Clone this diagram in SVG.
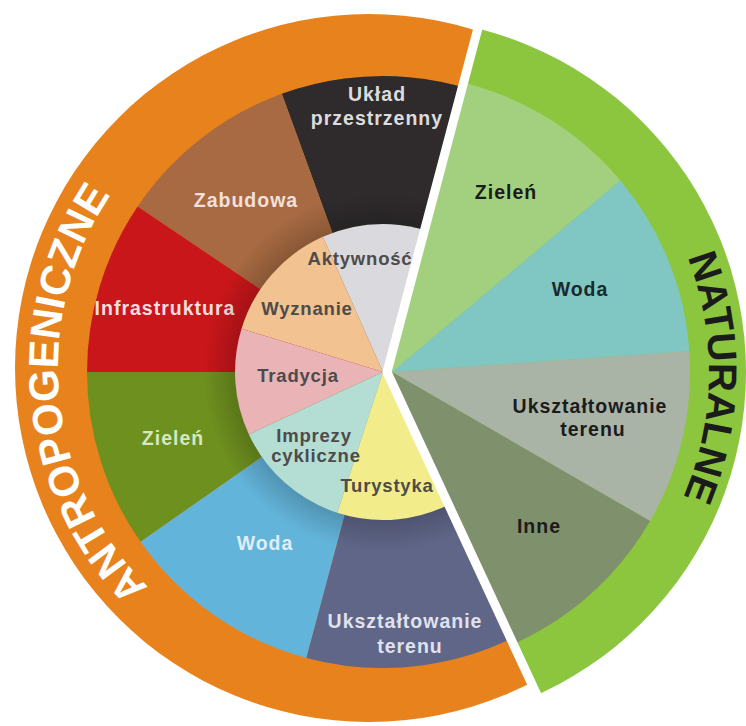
<svg xmlns="http://www.w3.org/2000/svg" width="746" height="726" viewBox="0 0 746 726">
  <style>
    .lbl { font-family: "Liberation Sans", Arial, sans-serif; font-weight: bold; font-size: 19.5px; letter-spacing: 1px; text-anchor: middle; }
    .in { font-family: "Liberation Sans", Arial, sans-serif; font-weight: bold; font-size: 18.5px; letter-spacing: 0.8px; text-anchor: middle; fill: #4d4b4b; }
    .ring { font-family: "Liberation Sans", Arial, sans-serif; font-weight: bold; text-anchor: middle; }
    .dk { fill: #1b1b1b; }
  </style>
  <defs>
    <clipPath id="clipA">
      <polygon points="0,0 485.4,0 387,372 551.3,726 0,726"/>
    </clipPath>
    <clipPath id="clipN">
      <polygon points="485.4,0 746,0 746,726 551.3,726 387,372"/>
    </clipPath>
    <radialGradient id="shade" cx="383" cy="372" r="180" gradientUnits="userSpaceOnUse">
      <stop offset="0.8" stop-color="#000" stop-opacity="0.2"/>
      <stop offset="1" stop-color="#000" stop-opacity="0"/>
    </radialGradient>
    <path id="arcA" d="M240,651 A311,311 0 0 1 188.4,114.8"/>
    <path id="arcN" d="M555.2,100.3 A317,317 0 0 1 545.7,649.2"/>
  </defs>

  <rect width="746" height="726" fill="#ffffff"/>

  <!-- ANTROPOGENICZNE half -->
  <g id="antropogeniczne" clip-path="url(#clipA)">
    <g id="ring-antropogeniczne">
      <circle cx="369" cy="368" r="354" fill="#e8821d"/>
      <text class="ring" font-size="42" fill="#ffffff"><textPath href="#arcA" startOffset="50%">ANTROPOGENICZNE</textPath></text>
    </g>
    <g id="a-uklad">
      <path d="M383,372 L281.8,93.8 A296,296 0 0 1 531,115.7 Z" fill="#2f2b2c"/>
      <text class="lbl" fill="#dcdcdc" x="377" y="101">Układ</text>
      <text class="lbl" fill="#dcdcdc" x="377" y="125">przestrzenny</text>
    </g>
    <g id="a-zabudowa">
      <path d="M383,372 L137.6,206.5 A296,296 0 0 1 281.8,93.8 Z" fill="#a76a42"/>
      <text class="lbl" fill="#f3e0dc" x="246" y="207">Zabudowa</text>
    </g>
    <g id="a-infrastruktura">
      <path d="M383,372 L87,372 A296,296 0 0 1 137.6,206.5 Z" fill="#c9161a"/>
      <text class="lbl" fill="#f6dede" x="165" y="315">Infrastruktura</text>
    </g>
    <g id="a-zielen">
      <path d="M383,372 L140.5,541.8 A296,296 0 0 1 87,372 Z" fill="#6e901f"/>
      <text class="lbl" fill="#d6e8c2" x="173" y="445">Zieleń</text>
    </g>
    <g id="a-woda">
      <path d="M383,372 L306.4,657.9 A296,296 0 0 1 140.5,541.8 Z" fill="#63b4da"/>
      <text class="lbl" fill="#ddeef7" x="265" y="550">Woda</text>
    </g>
    <g id="a-uksztaltowanie">
      <path d="M383,372 L531,628.3 A296,296 0 0 1 306.4,657.9 Z" fill="#5f6688"/>
      <text class="lbl" fill="#e0e2ee" x="405" y="628">Ukształtowanie</text>
      <text class="lbl" fill="#e0e2ee" x="410" y="653">terenu</text>
    </g>
    <circle cx="383" cy="372" r="180" fill="url(#shade)"/>
    <g id="i-aktywnosc">
      <path d="M383,372 L322.8,236.8 A148,148 0 0 1 457,243.8 Z" fill="#d9d9de"/>
    </g>
    <g id="i-wyznanie">
      <path d="M383,372 L241.5,328.7 A148,148 0 0 1 322.8,236.8 Z" fill="#f2c290"/>
    </g>
    <g id="i-tradycja">
      <path d="M383,372 L248.9,434.5 A148,148 0 0 1 241.5,328.7 Z" fill="#eab3b6"/>
    </g>
    <g id="i-imprezy">
      <path d="M383,372 L337.3,512.8 A148,148 0 0 1 248.9,434.5 Z" fill="#b4ddd3"/>
    </g>
    <g id="i-turystyka">
      <path d="M383,372 L457,500.2 A148,148 0 0 1 337.3,512.8 Z" fill="#f2ed8a"/>
    </g>
    <g id="inner-labels">
      <text class="in" x="360" y="265">Aktywność</text>
      <text class="in" x="307" y="315">Wyznanie</text>
      <text class="in" x="298" y="382">Tradycja</text>
      <text class="in" x="314" y="442">Imprezy</text>
      <text class="in" x="316" y="462">cykliczne</text>
      <text class="in" x="387" y="492">Turystyka</text>
    </g>
  </g>

  <!-- NATURALNE half -->
  <g id="naturalne" clip-path="url(#clipN)">
    <g id="ring-naturalne">
      <circle cx="392" cy="372" r="354" fill="#8cc63e"/>
      <text class="ring dk" font-size="40"><textPath href="#arcN" startOffset="50%">NATURALNE</textPath></text>
    </g>
    <g id="n-zielen">
      <path d="M392,372 L181.3,161.3 A298,298 0 0 1 620.3,180.4 Z" fill="#a3d07e"/>
      <text class="lbl dk" x="506" y="199">Zieleń</text>
    </g>
    <g id="n-woda">
      <path d="M392,372 L620.3,180.4 A298,298 0 0 1 689.3,351.2 Z" fill="#80c7c3"/>
      <text class="lbl" fill="#1c2a2e" x="580" y="296">Woda</text>
    </g>
    <g id="n-uksztaltowanie">
      <path d="M392,372 L689.3,351.2 A298,298 0 0 1 650.1,521 Z" fill="#a9b3a6"/>
      <text class="lbl dk" x="590" y="413">Ukształtowanie</text>
      <text class="lbl dk" x="593" y="436">terenu</text>
    </g>
    <g id="n-inne">
      <path d="M392,372 L650.1,521 A298,298 0 0 1 181.3,582.7 Z" fill="#7f906c"/>
      <text class="lbl dk" x="539" y="533">Inne</text>
    </g>
  </g>

  <g id="connectors">
    <polyline points="485.4,0 387,372 551.3,726" fill="none" stroke="#ffffff" stroke-width="9" stroke-linejoin="miter"/>
  </g>
</svg>
